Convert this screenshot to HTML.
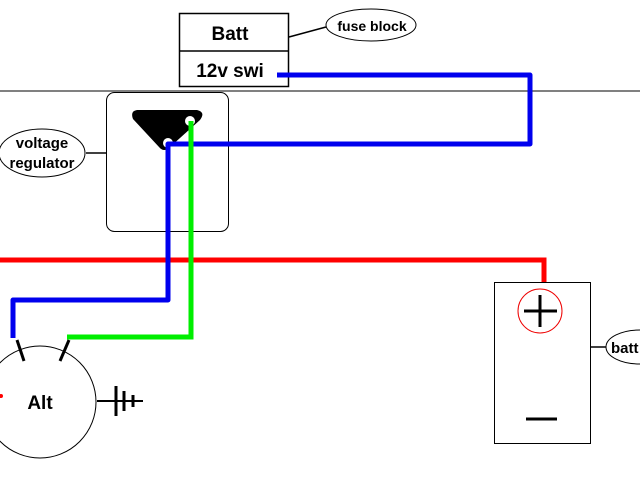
<!DOCTYPE html>
<html><head><meta charset="utf-8"><style>
html,body{margin:0;padding:0;background:#fff;width:640px;height:480px;overflow:hidden}
text{font-family:"Liberation Sans",Arial,sans-serif;font-weight:bold;fill:#000}
</style></head><body>
<svg width="640" height="480" viewBox="0 0 640 480" xmlns="http://www.w3.org/2000/svg">
<line x1="0" y1="91" x2="640" y2="91" stroke="#000" stroke-width="1"/>
<rect x="179.5" y="13.5" width="109" height="73" fill="#fff" stroke="#000" stroke-width="1.5"/>
<line x1="179" y1="51" x2="289" y2="51" stroke="#000" stroke-width="1.5"/>
<text x="230" y="40" font-size="19" text-anchor="middle">Batt</text>
<text x="230" y="77" font-size="19" text-anchor="middle">12v swi</text>
<line x1="289" y1="37" x2="326" y2="27" stroke="#000" stroke-width="1.5"/>
<ellipse cx="371" cy="25" rx="45" ry="16" fill="#fff" stroke="#000" stroke-width="1"/>
<text x="372" y="31" font-size="14" text-anchor="middle">fuse block</text>
<rect x="106.5" y="92.5" width="122" height="139" rx="8" fill="#fff" stroke="#000" stroke-width="1"/>
<path d="M137 110 L197 110 Q206 112 200 120 L170 147 Q164 153 159 147 L133 119 Q130 111 137 110 Z" fill="#000"/>
<circle cx="190" cy="121" r="5" fill="#fff"/>
<circle cx="168" cy="143" r="5" fill="#fff"/>
<line x1="86" y1="153" x2="106" y2="153" stroke="#000" stroke-width="1.5"/>
<ellipse cx="42" cy="153" rx="43" ry="24" fill="#fff" stroke="#000" stroke-width="1"/>
<text x="42" y="148" font-size="15" text-anchor="middle">voltage</text>
<text x="42" y="168" font-size="15" text-anchor="middle">regulator</text>
<polyline points="0,260 544,260 544,283" fill="none" stroke="#f00" stroke-width="5"/>
<polyline points="277,75 530,75 530,144 168,144 168,300 13,300 13,338" fill="none" stroke="#0000ee" stroke-width="5" stroke-linejoin="round"/>
<polyline points="191,121 191,337 67,337" fill="none" stroke="#00ee00" stroke-width="5"/>
<circle cx="40" cy="402" r="56" fill="#fff" stroke="#000" stroke-width="1"/>
<line x1="17" y1="340" x2="24" y2="361" stroke="#000" stroke-width="3"/>
<line x1="69" y1="340" x2="60" y2="361" stroke="#000" stroke-width="3"/>
<text x="40" y="409" font-size="19" text-anchor="middle">Alt</text>
<circle cx="1" cy="396" r="2" fill="#f00"/>
<line x1="97" y1="401" x2="143" y2="401" stroke="#000" stroke-width="2"/>
<line x1="116" y1="386" x2="116" y2="416" stroke="#000" stroke-width="3"/>
<line x1="124" y1="391" x2="124" y2="411" stroke="#000" stroke-width="3"/>
<line x1="133" y1="395" x2="133" y2="407" stroke="#000" stroke-width="3"/>
<rect x="494.5" y="282.5" width="96" height="161" fill="#fff" stroke="#000" stroke-width="1"/>
<circle cx="540" cy="311" r="22" fill="none" stroke="#e00" stroke-width="1"/>
<line x1="524" y1="311" x2="557" y2="311" stroke="#000" stroke-width="3"/>
<line x1="540" y1="295" x2="540" y2="327" stroke="#000" stroke-width="3"/>
<line x1="526" y1="419" x2="557" y2="419" stroke="#000" stroke-width="3"/>
<line x1="590" y1="347" x2="606" y2="347" stroke="#000" stroke-width="1.5"/>
<ellipse cx="640" cy="347" rx="34" ry="17" fill="#fff" stroke="#000" stroke-width="1"/>
<text x="611" y="353" font-size="15">batt</text>
</svg>
</body></html>
